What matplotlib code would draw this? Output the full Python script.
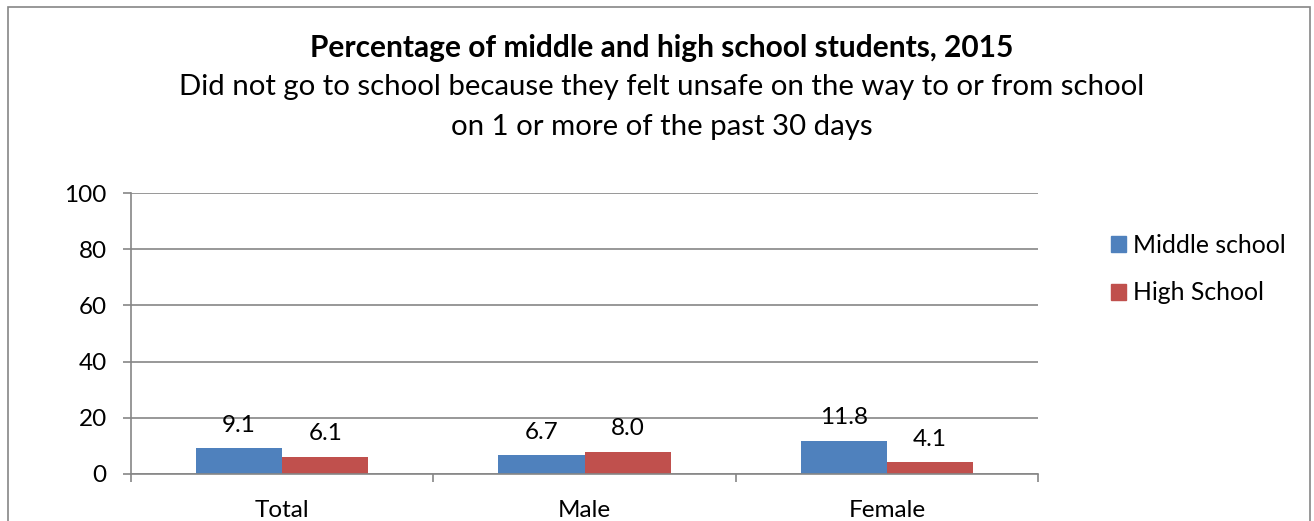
import matplotlib
matplotlib.use("Agg")
import matplotlib.pyplot as plt
from matplotlib.patches import Rectangle, Patch
import numpy as np

plt.rcParams['font.family'] = ['Lato', 'DejaVu Sans']

categories = ["Total", "Male", "Female"]
middle_school = [9.1, 6.7, 11.8]
high_school = [6.1, 8.0, 4.1]
series_names = ["Middle school", "High School"]
y_ticks = [0, 20, 40, 60, 80, 100]

BLUE = "#4F81BD"
RED = "#C0504D"
GRID = "#868686"

W, H = 1314, 521
fig = plt.figure(figsize=(W / 100, H / 100), dpi=100)

# outer chart frame
fig.patches.append(Rectangle((8 / W, -0.1), (1310 - 8) / W, 1.1 - 7 / H,
                             transform=fig.transFigure, fill=False,
                             edgecolor=GRID, linewidth=1.2))

ax = fig.add_axes([131 / W, 1 - 474 / H, (1038 - 131) / W, (474 - 193) / H])

x = np.arange(len(categories))
bw = 0.285
b1 = ax.bar(x - bw / 2, middle_school, bw, color=BLUE, label=series_names[0])
b2 = ax.bar(x + bw / 2, high_school, bw, color=RED, label=series_names[1])

for bars, vals in ((b1, middle_school), (b2, high_school)):
    for rect, v in zip(bars, vals):
        ax.annotate(f"{v:.1f}", (rect.get_x() + rect.get_width() / 2, v),
                    xytext=(0, 9), textcoords="offset points",
                    ha="center", va="bottom", fontsize=17.5)

ax.set_xlim(-0.5, len(categories) - 0.5)
ax.set_ylim(0, 100)
ax.set_yticks(y_ticks)
ax.set_yticklabels([str(t) for t in y_ticks], fontsize=17.5)
ax.set_xticks(x)
ax.set_xticklabels(categories, fontsize=17.5)
ax.set_xticks(np.arange(len(categories) + 1) - 0.5, minor=True)
ax.tick_params(axis="x", which="major", length=0, pad=19)
ax.tick_params(axis="x", which="minor", length=5.5, color=GRID, width=1.2)
ax.tick_params(axis="y", length=5.5, color=GRID, width=1.2, pad=12)
ax.grid(axis="y", color=GRID, linewidth=1.2)
ax.set_axisbelow(True)
for s in ("top", "right"):
    ax.spines[s].set_visible(False)
for s in ("left", "bottom"):
    ax.spines[s].set_color(GRID)
    ax.spines[s].set_linewidth(1.2)

cx = 662 / W
fig.text(cx, 1 - 48 / H,
         "Percentage of middle and high school students, 2015",
         ha="center", va="center", fontsize=21.5, fontweight="bold")
fig.text(cx, 1 - 87 / H,
         "Did not go to school because they felt unsafe on the way to or from school",
         ha="center", va="center", fontsize=21.2)
fig.text(cx, 1 - 127 / H,
         "on 1 or more of the past 30 days",
         ha="center", va="center", fontsize=21.2)

handles = [Patch(color=BLUE), Patch(color=RED)]
fig.legend(handles, series_names, loc="upper left",
           bbox_to_anchor=(1091 / W, 1 - 214 / H), frameon=False,
           fontsize=17.8, handlelength=0.6, handleheight=0.6,
           handletextpad=0.3, labelspacing=1.0, borderpad=0.3)

fig.savefig("out.png", dpi=100)
